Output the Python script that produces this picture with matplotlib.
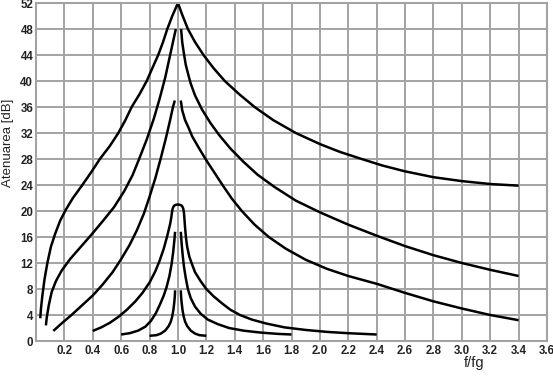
import numpy as np
import matplotlib
matplotlib.use("Agg")
import matplotlib.pyplot as plt

# values (x = f/fg, y = attenuation in dB)
c1_x = [0.03, 0.035, 0.045, 0.06, 0.08, 0.105, 0.135, 0.17, 0.21, 0.26, 0.32, 0.39, 0.45, 0.52,
        0.58, 0.63, 0.674, 0.73, 0.78, 0.82, 0.861, 0.895, 0.925, 0.96, 1.0,
        1.03, 1.07, 1.12, 1.18, 1.25, 1.33, 1.43, 1.54, 1.67, 1.83, 2.0, 2.14, 2.28, 2.44,
        2.6, 2.8, 3.0, 3.2, 3.4]
c1_y = [3.5, 5.0, 7.0, 9.5, 12.0, 14.5, 16.5, 18.5, 20.2, 22.0, 23.8, 26.0, 28.0, 30.0,
        32.0, 34.0, 36.0, 38.0, 40.0, 42.0, 44.0, 46.0, 48.0, 50.0, 52.0,
        50.2, 48.0, 46.0, 44.0, 42.0, 40.0, 38.0, 36.0, 34.0, 32.0, 30.3, 29.1, 28.1, 27.0,
        26.1, 25.2, 24.6, 24.15, 23.9]

c2_left_x = [0.07, 0.075, 0.09, 0.11, 0.14, 0.18, 0.24, 0.32, 0.40, 0.48, 0.55, 0.62, 0.68,
             0.73, 0.78, 0.83, 0.87, 0.91, 0.94, 0.965, 0.985]
c2_left_y = [2.4, 3.5, 5.5, 7.5, 9.2, 10.8, 12.6, 14.6, 16.6, 18.7, 20.6, 23.0, 25.5,
             28.2, 31.0, 34.2, 37.2, 40.5, 43.5, 46.0, 48.0]
c2_right_x = [1.022, 1.03, 1.04, 1.055, 1.075, 1.09, 1.12, 1.17, 1.23, 1.29, 1.37, 1.46, 1.56,
              1.68, 1.83, 2.0, 2.2, 2.4, 2.6, 2.8, 3.0, 3.2, 3.4]
c2_right_y = [48.0, 46.0, 44.5, 42.5, 40.8, 39.6, 37.8, 35.6, 33.5, 31.7, 29.6, 27.6, 25.6,
              23.7, 21.6, 19.8, 17.9, 16.2, 14.6, 13.2, 12.0, 10.95, 10.0]

c3_left_x = [0.122, 0.18, 0.25, 0.32, 0.40, 0.47, 0.54, 0.60, 0.66, 0.71, 0.76, 0.80, 0.84,
             0.88, 0.915, 0.945, 0.965, 0.978]
c3_left_y = [1.55, 2.7, 4.0, 5.4, 7.0, 8.7, 10.6, 12.6, 14.8, 17.0, 19.6, 22.2, 25.0,
             28.2, 31.2, 34.0, 36.0, 37.0]
c3_right_x = [1.02, 1.03, 1.05, 1.075, 1.10, 1.15, 1.20, 1.26, 1.32, 1.38, 1.45, 1.54, 1.64,
              1.76, 1.9, 2.05, 2.2, 2.4, 2.6, 2.8, 3.0, 3.2, 3.4]
c3_right_y = [37.0, 35.5, 34.0, 32.8, 31.5, 29.6, 27.8, 25.8, 23.8, 21.9, 20.0, 17.9, 16.0,
              14.2, 12.5, 11.1, 10.0, 8.8, 7.4, 6.1, 5.0, 4.0, 3.2]

c4_x = [0.40, 0.46, 0.52, 0.58, 0.64, 0.70, 0.75, 0.80, 0.84, 0.87, 0.90, 0.925, 0.945, 0.953,
        0.958, 0.963, 0.972, 0.985, 1.0, 1.015, 1.028, 1.037, 1.042, 1.045, 1.05, 1.056, 1.065,
        1.08, 1.096, 1.12, 1.16, 1.20, 1.25, 1.31, 1.37, 1.437, 1.52, 1.62, 1.75, 1.9, 2.05,
        2.2, 2.4]
c4_y = [1.55, 2.1, 2.8, 3.7, 4.8, 6.1, 7.4, 9.0, 10.7, 12.3, 14.2, 16.2, 18.0, 19.0,
        19.8, 20.4, 20.8, 20.95, 21.0, 20.95, 20.8, 20.4, 19.8, 19.0, 17.5, 16.0, 14.5,
        13.0, 12.0, 10.6, 9.2, 8.0, 6.9, 5.8, 4.8, 4.0, 3.3, 2.7, 2.1, 1.7, 1.4,
        1.2, 1.0]

c5_left_x = [0.60, 0.66, 0.72, 0.77, 0.81, 0.845, 0.875, 0.90, 0.92, 0.94, 0.955, 0.966,
             0.974, 0.98]
c5_left_y = [1.0, 1.2, 1.6, 2.2, 3.1, 4.3, 5.7, 7.0, 8.3, 10.0, 11.8, 13.6, 15.3, 16.8]
c5_right_x = [1.02, 1.026, 1.033, 1.042, 1.055, 1.07, 1.09, 1.12, 1.16, 1.21, 1.28, 1.36,
              1.46, 1.58, 1.7, 1.8]
c5_right_y = [16.8, 15.0, 13.3, 11.5, 9.7, 8.0, 6.6, 5.3, 4.2, 3.3, 2.6, 2.0, 1.6, 1.3,
              1.1, 1.0]

c6_left_x = [0.80, 0.85, 0.88, 0.91, 0.935, 0.95, 0.96, 0.968, 0.974, 0.978, 0.98]
c6_left_y = [0.8, 0.9, 1.15, 1.6, 2.3, 3.0, 3.8, 4.8, 5.9, 6.9, 7.8]
c6_right_x = [1.02, 1.022, 1.026, 1.032, 1.04, 1.05, 1.065, 1.09, 1.12, 1.15, 1.2]
c6_right_y = [7.8, 6.9, 5.9, 4.8, 3.8, 3.0, 2.3, 1.6, 1.15, 0.9, 0.8]

x_ticks = [0.2, 0.4, 0.6, 0.8, 1.0, 1.2, 1.4, 1.6, 1.8, 2.0, 2.2, 2.4, 2.6, 2.8, 3.0, 3.2, 3.4, 3.6]
y_ticks = [0, 4, 8, 12, 16, 20, 24, 28, 32, 36, 40, 44, 48, 52]

plt.rcParams['font.family'] = ['Liberation Sans', 'DejaVu Sans']

fig = plt.figure(figsize=(5.53, 3.78), dpi=100)
ax = fig.add_axes([36 / 553, 1 - 341 / 378, 511 / 553, 338 / 378])

grid_col = '#a3a3a3'
ax.set_xlim(0, 3.6)
ax.set_ylim(0, 52)
ax.set_xticks(x_ticks)
ax.set_xticklabels([f"{v:.1f}" for v in x_ticks])
ax.set_yticks(y_ticks)
ax.set_yticklabels([str(v) for v in y_ticks])
ax.grid(True, color=grid_col, linewidth=1.4)
ax.set_axisbelow(True)
for s in ax.spines.values():
    s.set_color(grid_col)
    s.set_linewidth(1.5)
ax.tick_params(length=0, labelsize=8.3, labelcolor='#222222')
ax.tick_params(axis='x', pad=3)
ax.tick_params(axis='y', pad=2)
for lab in ax.get_xticklabels() + ax.get_yticklabels():
    lab.set_fontweight('bold')

style = dict(color='black', linewidth=1.8, solid_capstyle='butt', solid_joinstyle='round')
ax.plot(c1_x, c1_y, **style)
ax.plot(c2_left_x, c2_left_y, **style)
ax.plot(c2_right_x, c2_right_y, **style)
ax.plot(c3_left_x, c3_left_y, **style)
ax.plot(c3_right_x, c3_right_y, **style)
ax.plot(c4_x, c4_y, **style)
ax.plot(c5_left_x, c5_left_y, **style)
ax.plot(c5_right_x, c5_right_y, **style)
ax.plot(c6_left_x, c6_left_y, **style)
ax.plot(c6_right_x, c6_right_y, **style)

fig.text(8 / 553, 1 - 143 / 378, 'Atenuarea [dB]', fontsize=9.5, color='#222222',
         rotation=90, ha='center', va='center')
fig.text(474 / 553, 1 - 363 / 378, 'f/fg', fontsize=10.5, color='#222222', ha='center', va='center')

fig.savefig('out.png', dpi=100)
